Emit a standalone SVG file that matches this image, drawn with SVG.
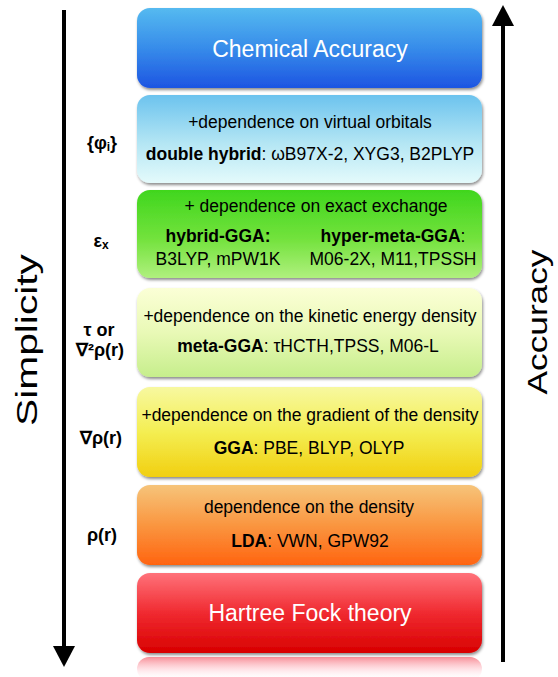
<svg xmlns="http://www.w3.org/2000/svg" width="558" height="677" viewBox="0 0 558 677">
  <defs>
    <style>
      text { font-family: "Liberation Sans", Arial, Helvetica, sans-serif; fill: #000; }
      .title { font-size: 23px; fill: #fff; text-anchor: middle; }
      .body { font-size: 17.5px; text-anchor: middle; }
      .b { font-weight: bold; }
      .lab { font-size: 18px; font-weight: bold; text-anchor: middle; }
      .axis { font-size: 30px; }
      .box { filter: url(#shadow); }
    </style>
    <filter id="shadow" x="-5%" y="-10%" width="112%" height="130%">
      <feDropShadow dx="1" dy="2" stdDeviation="1.6" flood-color="#000" flood-opacity="0.45"/>
    </filter>
    <linearGradient id="gBlue" x1="0" y1="0" x2="0" y2="1">
      <stop offset="0" stop-color="#55baf0"/>
      <stop offset="0.5" stop-color="#378cea"/>
      <stop offset="1" stop-color="#1d55e2"/>
    </linearGradient>
    <linearGradient id="gCyan" x1="0" y1="0" x2="0" y2="1">
      <stop offset="0" stop-color="#6cc3ee"/>
      <stop offset="0.55" stop-color="#b4e6f4"/>
      <stop offset="1" stop-color="#e4fafb"/>
    </linearGradient>
    <linearGradient id="gGreen" x1="0" y1="0" x2="0" y2="1">
      <stop offset="0" stop-color="#40d61e"/>
      <stop offset="0.55" stop-color="#72e23c"/>
      <stop offset="1" stop-color="#b0f07e"/>
    </linearGradient>
    <linearGradient id="gLime" x1="0" y1="0" x2="0" y2="1">
      <stop offset="0" stop-color="#fbffd6"/>
      <stop offset="0.5" stop-color="#e9f9b6"/>
      <stop offset="1" stop-color="#c6ee8c"/>
    </linearGradient>
    <linearGradient id="gYellow" x1="0" y1="0" x2="0" y2="1">
      <stop offset="0" stop-color="#f7f8a0"/>
      <stop offset="0.5" stop-color="#f4ee52"/>
      <stop offset="1" stop-color="#f1cf10"/>
    </linearGradient>
    <linearGradient id="gOrange" x1="0" y1="0" x2="0" y2="1">
      <stop offset="0" stop-color="#f6c47a"/>
      <stop offset="0.5" stop-color="#fa9640"/>
      <stop offset="1" stop-color="#ff6410"/>
    </linearGradient>
    <linearGradient id="gRed" x1="0" y1="0" x2="0" y2="1">
      <stop offset="0" stop-color="#ff727a"/>
      <stop offset="0.5" stop-color="#f02a30"/>
      <stop offset="1" stop-color="#d80000"/>
    </linearGradient>
    <linearGradient id="gReflect" x1="0" y1="0" x2="0" y2="1">
      <stop offset="0" stop-color="#f03040" stop-opacity="0.55"/>
      <stop offset="0.5" stop-color="#ff9aa8" stop-opacity="0.3"/>
      <stop offset="1" stop-color="#ffffff" stop-opacity="0"/>
    </linearGradient>
  </defs>

  <rect width="558" height="677" fill="#fff"/>

  <!-- axis arrows -->
  <g id="connectors">
    <line x1="64" y1="10" x2="64" y2="650" stroke="#000" stroke-width="4"/>
    <polygon points="53,646 75,646 64,667" fill="#000"/>
    <line x1="503" y1="22" x2="503" y2="662" stroke="#000" stroke-width="4"/>
    <polygon points="492,26 514,26 503,5" fill="#000"/>
  </g>

  <g id="axis-simplicity">
    <text class="axis" transform="translate(37,340) rotate(-90)" text-anchor="middle" textLength="172" lengthAdjust="spacingAndGlyphs">Simplicity</text>
  </g>
  <g id="axis-accuracy">
    <text class="axis" style="font-size:28px" transform="translate(547,322) rotate(-90)" text-anchor="middle" textLength="145" lengthAdjust="spacingAndGlyphs">Accuracy</text>
  </g>

  <!-- reflection under the base box -->
  <rect x="137" y="657" width="345" height="24" rx="12" fill="url(#gReflect)"/>

  <g id="chemical-accuracy">
    <rect class="box" x="137" y="8" width="345" height="80" rx="13" fill="url(#gBlue)"/>
    <text class="title" x="310" y="57">Chemical Accuracy</text>
  </g>

  <g id="double-hybrid">
    <rect class="box" x="137" y="95" width="345" height="88" rx="13" fill="url(#gCyan)"/>
    <text class="body" x="310" y="128">+dependence on virtual orbitals</text>
    <text class="body" x="310" y="160"><tspan class="b">double hybrid</tspan>: ωB97X-2, XYG3, B2PLYP</text>
  </g>

  <g id="hybrid">
    <rect class="box" x="137" y="190" width="345" height="88" rx="13" fill="url(#gGreen)"/>
    <text class="body" x="316" y="212">+ dependence on exact exchange</text>
    <text class="body b" x="218" y="242">hybrid-GGA:</text>
    <text class="body" x="218" y="265">B3LYP, mPW1K</text>
    <text class="body" x="393" y="242"><tspan class="b">hyper-meta-GGA</tspan>:</text>
    <text class="body" x="393" y="265">M06-2X, M11,TPSSH</text>
  </g>

  <g id="meta-gga">
    <rect class="box" x="137" y="288" width="345" height="89" rx="13" fill="url(#gLime)"/>
    <text class="body" x="310" y="322">+dependence on the kinetic energy density</text>
    <text class="body" x="308" y="352"><tspan class="b">meta-GGA</tspan>: τHCTH,TPSS, M06-L</text>
  </g>

  <g id="gga">
    <rect class="box" x="137" y="387" width="345" height="90" rx="13" fill="url(#gYellow)"/>
    <text class="body" x="310" y="421">+dependence on the gradient of the density</text>
    <text class="body" x="309" y="454"><tspan class="b">GGA</tspan>: PBE, BLYP, OLYP</text>
  </g>

  <g id="lda">
    <rect class="box" x="137" y="485" width="345" height="80" rx="13" fill="url(#gOrange)"/>
    <text class="body" x="309" y="513">dependence on the density</text>
    <text class="body" x="310" y="547"><tspan class="b">LDA</tspan>: VWN, GPW92</text>
  </g>

  <g id="hartree-fock">
    <rect class="box" x="137" y="573" width="345" height="80" rx="13" fill="url(#gRed)"/>
    <text class="title" x="310" y="621">Hartree Fock theory</text>
  </g>

  <!-- variables each rung depends on -->
  <g id="labels">
    <text class="lab" x="102" y="149">{φ<tspan font-size="12" dy="2">i</tspan><tspan dy="-2">}</tspan></text>
    <text class="lab" x="101" y="247">ε<tspan font-size="12" dy="2">x</tspan></text>
    <text class="lab" x="99" y="336">τ or</text>
    <text class="lab" x="100" y="356">∇²ρ(r)</text>
    <text class="lab" x="101" y="444">∇ρ(r)</text>
    <text class="lab" x="102" y="541">ρ(r)</text>
  </g>
</svg>
